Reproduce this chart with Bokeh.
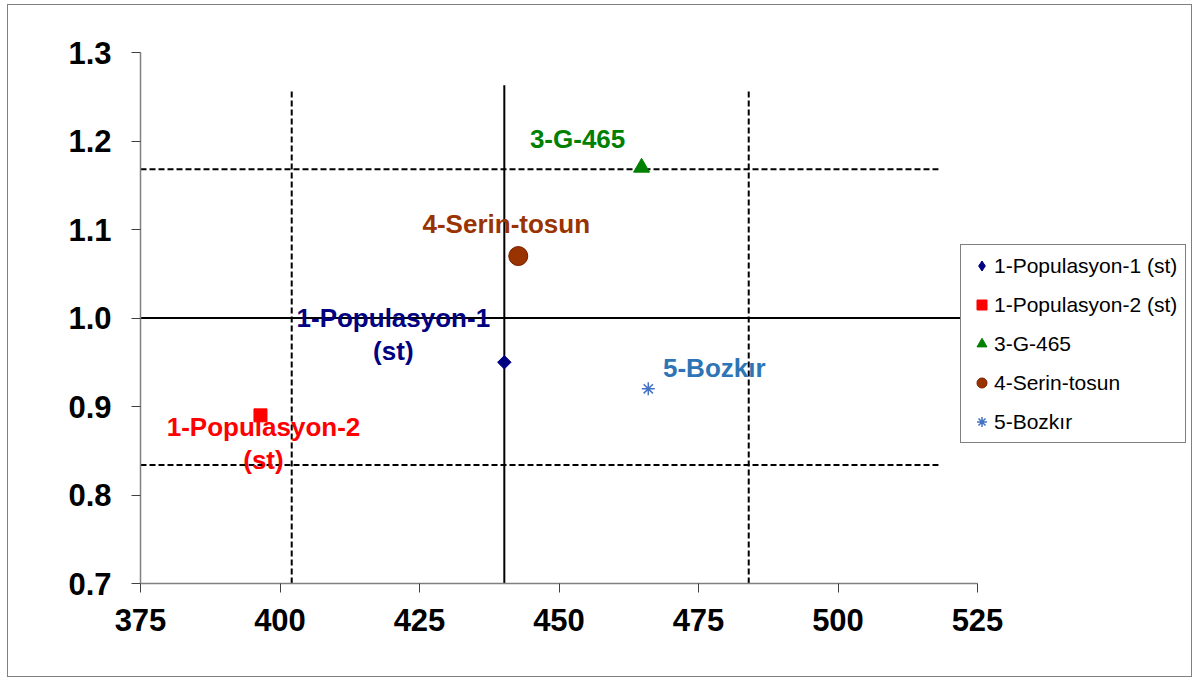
from math import pi, nan
from bokeh.plotting import figure
from bokeh.models import ColumnDataSource, FixedTicker, PrintfTickFormatter, Legend, LegendItem, Range1d
from bokeh.core.properties import value
from bokeh.embed import file_html
from bokeh.resources import INLINE

# ---- data ----
series_names = ["1-Populasyon-1 (st)", "1-Populasyon-2 (st)", "3-G-465", "4-Serin-tosun", "5-Bozkır"]
point_labels = ["1-Populasyon-1\n(st)", "1-Populasyon-2\n(st)", "3-G-465", "4-Serin-tosun", "5-Bozkır"]
x_values = [440.2, 396.5, 464.8, 442.7, 466.0]
y_values = [0.95, 0.89, 1.17, 1.07, 0.92]

x_mean = 440.2
x_bounds = [402.1, 484.0]
y_mean = 1.0
y_bounds = [0.834, 1.168]
vline_top_solid = 1.263
vline_top_dash = 1.259
hline_end_dash = 518.0
hline_end_solid = 524.0

x_axis_min, x_axis_max = 375, 525
y_axis_min, y_axis_max = 0.7, 1.3
x_ticks = [375, 400, 425, 450, 475, 500, 525]
y_ticks = [0.7, 0.8, 0.9, 1.0, 1.1, 1.2, 1.3]

# ---- styles / layout ----
markers = ["square", "square", "triangle", "circle", "asterisk"]
legend_markers = ["diamond", "square", "triangle", "circle", "asterisk"]
marker_angles = [pi / 4, 0, 0, 0, 0]
marker_sizes = [9.5, 13, 16, 19, 13]
fill_colors = ["#000080", "#FF0000", "#008000", "#993300", "#4472C4"]
line_colors = ["#000080", "#FF0000", "#008000", "#7a1a00", "#4472C4"]
label_colors = ["#000080", "#FF0000", "#008000", "#993300", "#2E75B6"]
label_dx = [-111, 3, -64, -12, 66]
label_dy = [-28, 28, -29, -32, -21]

FONT = "Liberation Sans"
AXIS_PX = 837      # pixel length of the 375..525 axis
FRAME_PX = 1050    # frame width (axis + room for the legend)
x_view_max = x_axis_min + (x_axis_max - x_axis_min) * FRAME_PX / AXIS_PX

p = figure(width=1185, height=673, output_backend="svg", toolbar_location=None,
           x_range=Range1d(x_axis_min, x_view_max), y_range=Range1d(y_axis_min, y_axis_max))
p.styles = {"border": "1px solid #808080", "margin-left": "7px", "margin-top": "4px"}
p.min_border_left = 132
p.min_border_right = 3
p.min_border_top = 47
p.min_border_bottom = 95
p.outline_line_color = None
p.xgrid.visible = False
p.ygrid.visible = False
p.background_fill_color = "white"
p.border_fill_color = "white"

for ax in (p.xaxis[0], p.yaxis[0]):
    ax.axis_line_color = "#808080"
    ax.axis_line_width = 1.5
    ax.major_tick_line_color = "#404040"
    ax.major_tick_out = 9
    ax.major_tick_in = 0
    ax.minor_tick_line_color = None
    ax.major_label_text_font = FONT
    ax.major_label_text_font_style = "bold"
    ax.major_label_text_font_size = "31px"
    ax.major_label_text_color = "black"

p.xaxis[0].bounds = (x_axis_min, x_axis_max)
p.xaxis[0].ticker = FixedTicker(ticks=x_ticks)
p.yaxis[0].ticker = FixedTicker(ticks=y_ticks)
p.yaxis[0].formatter = PrintfTickFormatter(format="%.1f")
p.xaxis[0].major_label_standoff = 16
p.yaxis[0].major_label_standoff = 20

# reference lines
p.segment(x0=[x_bounds[0], x_bounds[1]], y0=[y_axis_min, y_axis_min], x1=[x_bounds[0], x_bounds[1]],
          y1=[vline_top_dash, vline_top_dash], line_color="black", line_width=2, line_dash="6 3")
p.segment(x0=[x_axis_min, x_axis_min], y0=y_bounds, x1=[hline_end_dash, hline_end_dash], y1=y_bounds,
          line_color="black", line_width=2, line_dash="6 3")
p.segment(x0=[x_mean], y0=[y_axis_min], x1=[x_mean], y1=[vline_top_solid], line_color="black", line_width=2)
p.segment(x0=[x_axis_min], y0=[y_mean], x1=[hline_end_solid], y1=[y_mean], line_color="black", line_width=2)

items = []
for i, name in enumerate(series_names):
    src = ColumnDataSource(dict(x=[x_values[i]], y=[y_values[i]]))
    lw = 1.5 if markers[i] == "asterisk" else 1
    p.scatter("x", "y", source=src, marker=markers[i], size=marker_sizes[i],
              angle=marker_angles[i],
              fill_color=fill_colors[i], line_color=line_colors[i], line_width=lw)
    # legend proxy: a NaN point that draws nothing on the plot, only its legend swatch
    proxy = p.scatter(x=[nan], y=[nan], marker=legend_markers[i], size=marker_sizes[i],
                      fill_color=fill_colors[i], line_color=line_colors[i], line_width=lw)
    items.append(LegendItem(label=name, renderers=[proxy]))

lab_src = ColumnDataSource(dict(x=x_values, y=y_values, text=point_labels,
                                dx=label_dx, dy=label_dy, color=label_colors))
p.text("x", "y", text="text", source=lab_src, x_offset="dx", y_offset="dy",
       text_color="color", text_align="center", text_baseline="middle",
       text_font=value(FONT), text_font_style="bold", text_font_size="26px",
       text_line_height=1.1)

legend = Legend(items=items, location=(820, 140))
legend.label_text_font = FONT
legend.label_text_font_size = "21px"
legend.label_text_color = "black"
legend.glyph_width = 25
legend.glyph_height = 25
legend.label_height = 25
legend.label_standoff = 0
legend.spacing = 14
legend.padding = 8
legend.margin = 0
legend.border_line_color = "black"
legend.border_line_width = 1
legend.background_fill_color = "white"
legend.background_fill_alpha = 1
p.add_layout(legend, "center")

open("out.html", "w").write(file_html(p, INLINE))
